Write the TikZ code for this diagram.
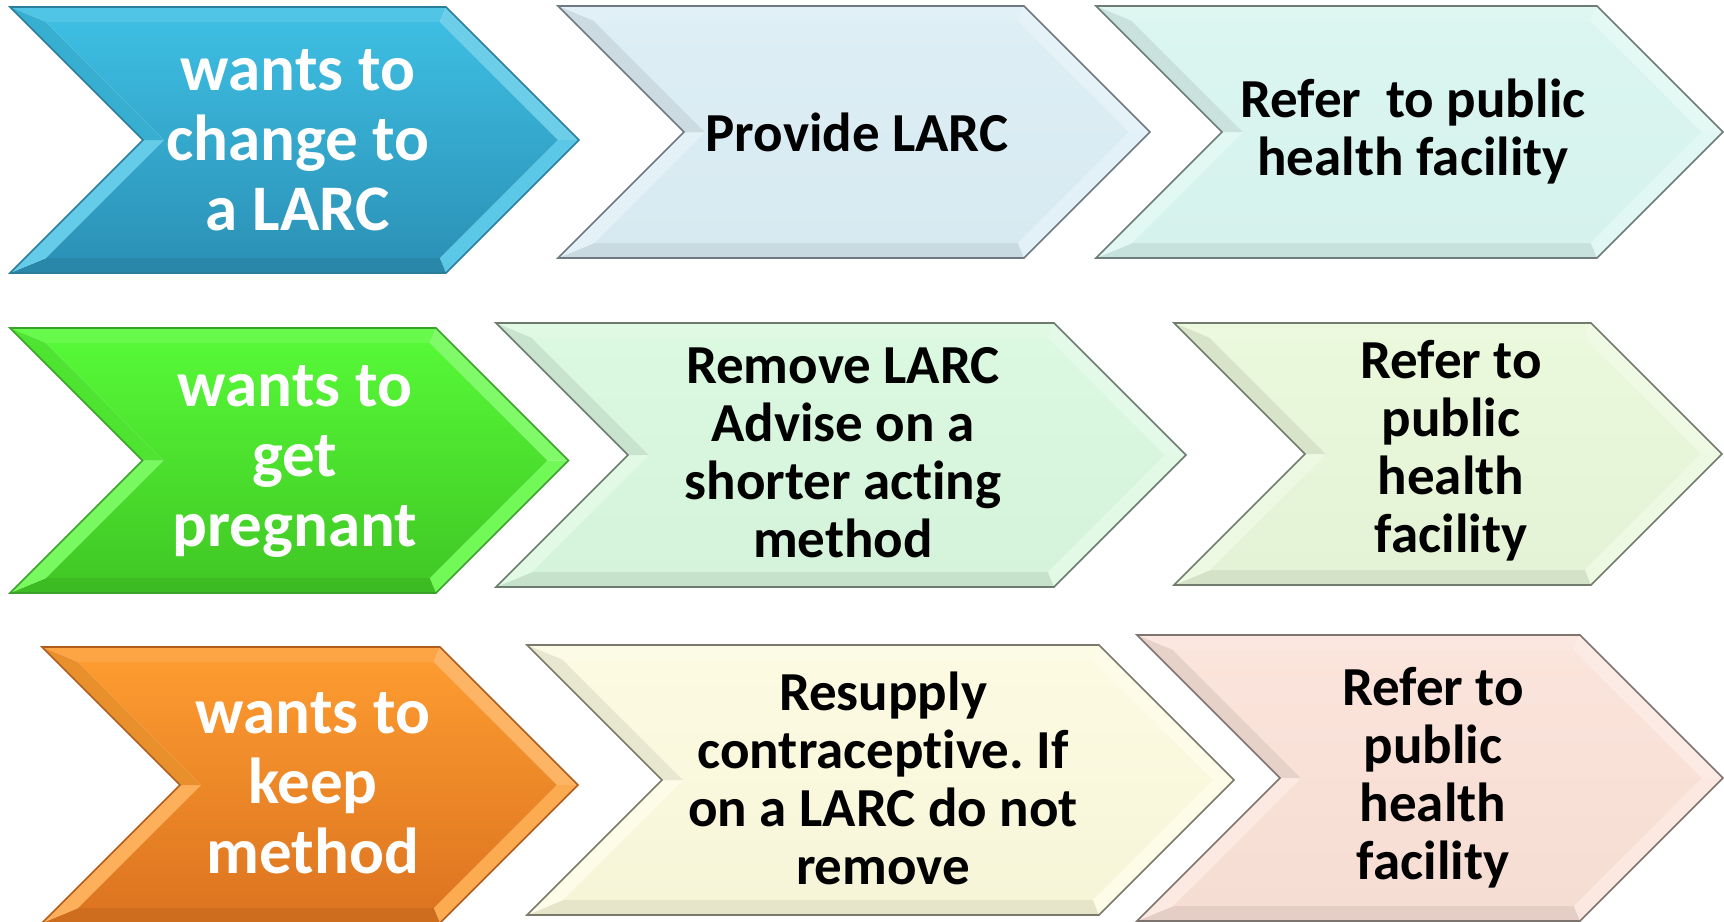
\documentclass[tikz,border=0pt]{standalone}
\usepackage{fontspec}
\setmainfont{Carlito}[Ligatures=NoCommon]
\frenchspacing

% palette for one chevron: #1 prefix, #2 upper body, #3 lower body, #4 outline
\newcommand\chevpalette[4]{%
  \definecolor{#1A}{HTML}{#2}%
  \definecolor{#1B}{HTML}{#3}%
  \definecolor{#1E}{HTML}{#4}%
  \colorlet{#1top}{#1A!90!white}%
  \colorlet{#1ur}{#1A!75!white}%
  \colorlet{#1lr}{#1A!84!white}%
  \colorlet{#1bot}{#1B!93!black}%
  \colorlet{#1ll}{#1A!80!white}%
  \colorlet{#1ul}{#1A!92!black}%
}

% bevelled 45-degree chevron: #1 left x, #2 top-right x, #3 top y, #4 bottom y, #5 palette
\newcommand\chevshape[5]{%
  \pgfmathsetmacro\hh{(#4-#3)/2}%
  \pgfmathsetmacro\MM{(#3+#4)/2}%
  \pgfmathsetmacro\Nx{#1+\hh}%
  \pgfmathsetmacro\Tx{#2+\hh}%
  \pgfmathsetmacro\iL{#1+2.414*15}%
  \pgfmathsetmacro\iR{#2-0.414*15}%
  \pgfmathsetmacro\iN{\Nx+1.414*15}%
  \pgfmathsetmacro\iT{\Tx-1.414*15}%
  \pgfmathsetmacro\iTop{#3+15}%
  \pgfmathsetmacro\iBot{#4-15}%
  \coordinate (o1) at (#1,#3);  \coordinate (o2) at (#2,#3);
  \coordinate (o3) at (\Tx,\MM); \coordinate (o4) at (#2,#4);
  \coordinate (o5) at (#1,#4);  \coordinate (o6) at (\Nx,\MM);
  \coordinate (i1) at (\iL,\iTop); \coordinate (i2) at (\iR,\iTop);
  \coordinate (i3) at (\iT,\MM);   \coordinate (i4) at (\iR,\iBot);
  \coordinate (i5) at (\iL,\iBot); \coordinate (i6) at (\iN,\MM);
  \fill[#5top] (o1)--(o2)--(i2)--(i1)--cycle;
  \fill[#5ur]  (o2)--(o3)--(i3)--(i2)--cycle;
  \fill[#5lr]  (o3)--(o4)--(i4)--(i3)--cycle;
  \fill[#5bot] (o4)--(o5)--(i5)--(i4)--cycle;
  \fill[#5ll]  (o5)--(o6)--(i6)--(i5)--cycle;
  \fill[#5ul]  (o6)--(o1)--(i1)--(i6)--cycle;
  \shade[top color=#5A, bottom color=#5B] (i1)--(i2)--(i3)--(i4)--(i5)--(i6)--cycle;
  \draw[#5E, line width=0.8pt, line join=miter] (o1)--(o2)--(o3)--(o4)--(o5)--(o6)--cycle;
}

\chevpalette{cblue}{3DBEE2}{2C92B7}{2A7E9C}
\chevpalette{cgreen}{56F837}{41C925}{3AA22B}
\chevpalette{corange}{FD9B30}{DD7520}{B05E1D}
\chevpalette{csky}{DDEEF5}{D8EAF1}{6F7A80}
\chevpalette{cmint}{DBF6F0}{D6F2EC}{6E7B78}
\chevpalette{cleaf}{DBF8E0}{D5F3DA}{6C7B6E}
\chevpalette{clime}{EAF8DC}{E4F3D6}{737B6C}
\chevpalette{ccream}{FCFBE2}{F7F5D8}{7B7A6A}
\chevpalette{cpeach}{FBE4DB}{F6DDD4}{7E746F}

\begin{document}
\begin{tikzpicture}[x=0.5pt,y=-0.5pt,
  lead/.style={text=white, align=center, inner sep=0pt,
    font=\bfseries\fontsize{32.5}{35}\selectfont},
  stepbox/.style={text=black, align=center, inner sep=0pt,
    font=\bfseries\fontsize{27.5}{29}\selectfont}]
\useasboundingbox (0,0) rectangle (1724,921);
\clip (0,0) rectangle (1724,921);
\fill[white] (0,0) rectangle (1724,921);

% row 1: change to a LARC
\chevshape{10}{446}{7}{273}{cblue}
\chevshape{558}{1024}{6}{258}{csky}
\chevshape{1096}{1597}{6}{258}{cmint}
% row 2: get pregnant
\chevshape{10}{436}{328}{593}{cgreen}
\chevshape{496}{1054}{323}{587}{cleaf}
\chevshape{1174}{1591}{323}{585}{clime}
% row 3: keep method
\chevshape{42}{440}{647}{923}{corange}
\chevshape{527}{1099}{645}{915}{ccream}
\chevshape{1137}{1580}{635}{921}{cpeach}

\node[lead] (a1) at (298,140) {wants to\\change to\\a LARC};
\node[stepbox] (a2) at (857,132) {Provide LARC};
\node[stepbox] (a3) at (1413,132) {Refer\ \ to public\\health facility};

\node[lead] (b1) at (295,461) {wants to\\get\\pregnant};
\node[stepbox] (b2) at (843,453) {Remove LARC\\Advise on a\\shorter acting\\method};
\node[stepbox] (b3) at (1451,451) {Refer to\\public\\health\\facility};

\node[lead] (c1) at (313,783) {wants to\\keep\\method};
\node[stepbox] (c2) at (883,778) {Resupply\\contraceptive. If\\on a LARC do not\\remove};
\node[stepbox] (c3) at (1433,778) {Refer to\\public\\health\\facility};
\end{tikzpicture}
\end{document}
